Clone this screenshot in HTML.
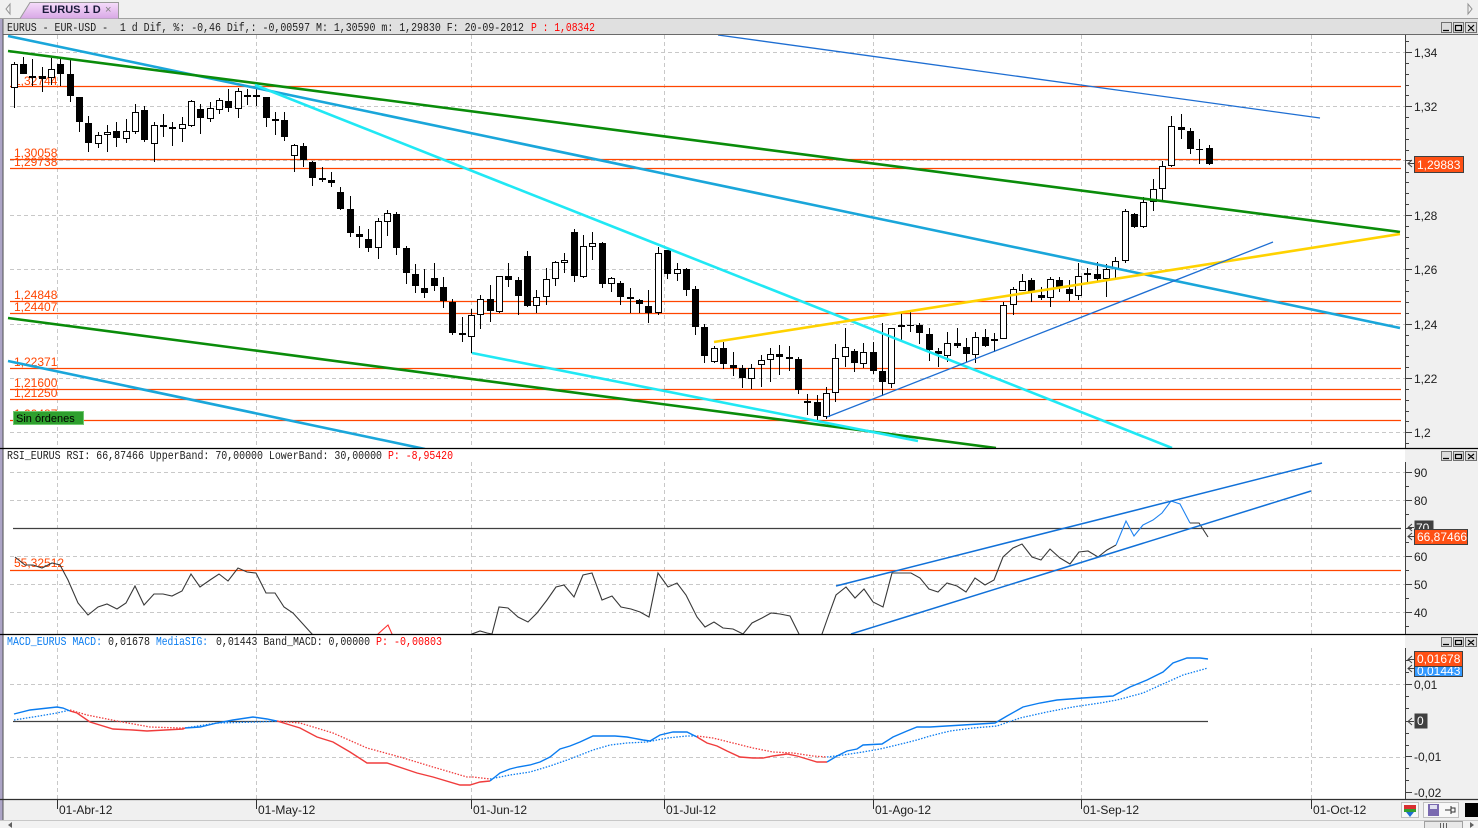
<!DOCTYPE html>
<html><head><meta charset="utf-8"><style>
html,body{margin:0;padding:0;background:#f0f0f0;overflow:hidden;}
svg{display:block;}
text{font-family:"Liberation Sans",sans-serif;}
.hd{font-family:"Liberation Mono",monospace;}
</style></head><body>
<svg width="1478" height="828" viewBox="0 0 1478 828" xmlns="http://www.w3.org/2000/svg">
<defs>
<clipPath id="cm"><rect x="4" y="35" width="1401" height="413"/></clipPath>
<clipPath id="cr"><rect x="4" y="462" width="1401" height="172"/></clipPath>
<clipPath id="cd"><rect x="4" y="648" width="1401" height="151"/></clipPath>
<linearGradient id="tab" x1="0" y1="0" x2="0" y2="1"><stop offset="0" stop-color="#f6dcfa"/><stop offset="1" stop-color="#d8a8e6"/></linearGradient>
</defs>
<rect width="1478" height="828" fill="#f0f0f0"/>

<!-- tab bar -->
<line x1="0" y1="18.5" x2="1478" y2="18.5" stroke="#a0a0a0"/>
<path d="M20,18.5 L30,2.5 H118.5 V18.5" fill="url(#tab)" stroke="#9a9a9a"/>
<text x="42" y="13" font-size="11" font-weight="bold" fill="#1a1a3a">EURUS 1 D</text>
<text x="105" y="13" font-size="11" fill="#808080">×</text>
<path d="M10,4 L6,9 L10,14 Z" fill="none" stroke="#909090"/>
<path d="M1468,4 L1472,9 L1468,14 Z" fill="none" stroke="#909090"/>

<!-- main header row -->
<rect x="4" y="19" width="1474" height="15" fill="#e0e0e0"/>
<line x1="0" y1="34.5" x2="1478" y2="34.5" stroke="#6a6a6a"/>
<text class="hd" x="7" y="31" font-size="12" fill="#202020" textLength="517" lengthAdjust="spacingAndGlyphs" xml:space="preserve">EURUS - EUR-USD -  1 d Dif, %: -0,46 Dif,: -0,00597 M: 1,30590 m: 1,29830 F: 20-09-2012</text>
<text class="hd" x="531" y="31" font-size="12" fill="#ff0000" textLength="64" lengthAdjust="spacingAndGlyphs">P : 1,08342</text>

<!-- plot backgrounds -->
<rect x="4" y="35" width="1401" height="413" fill="#ffffff"/>
<rect x="4" y="449" width="1401" height="185" fill="#ffffff"/>
<rect x="4" y="635" width="1401" height="164" fill="#ffffff"/>

<!-- left bar -->
<rect x="0" y="19" width="2.5" height="801" fill="#aca4c6"/>
<line x1="3" y1="19" x2="3" y2="820" stroke="#555" stroke-width="1"/>

<!-- grids -->
<g stroke="#c8c8c8" stroke-dasharray="4,3" stroke-width="1" fill="none">
<path d="M10,52.5H1405M10,106.5H1405M10,160.5H1405M10,215.5H1405M10,269.5H1405M10,324.5H1405M10,378.5H1405M10,432.5H1405"/>
<path d="M57.5,35V448M256.5,35V448M471.5,35V448M664.5,35V448M873.5,35V448M1081.5,35V448M1311.5,35V448"/>
<path d="M10,472.5H1405M10,500.5H1405M10,556.5H1405M10,584.5H1405M10,612.5H1405"/>
<path d="M57.5,462V634M256.5,462V634M471.5,462V634M664.5,462V634M873.5,462V634M1081.5,462V634M1311.5,462V634"/>
<path d="M10,684.5H1405M10,757.5H1405"/>
<path d="M57.5,648V799M256.5,648V799M471.5,648V799M664.5,648V799M873.5,648V799M1081.5,648V799M1311.5,648V799"/>
</g>

<!-- main orange levels -->
<g stroke="#ff4500" stroke-width="1.2">
<path d="M10,86.5H1401M10,159.5H1401M10,168.5H1401M10,301.5H1401M10,313.5H1401M10,368.5H1401M10,389.5H1401M10,399.5H1401M10,420.5H1401"/>
</g>
<g font-size="12" fill="#ff4500">
<text x="14" y="85">1,32744</text>
<text x="14" y="157">1,30058</text>
<text x="14" y="166">1,29738</text>
<text x="14" y="299">1,24848</text>
<text x="14" y="311">1,24407</text>
<text x="14" y="366">1,22371</text>
<text x="14" y="387">1,21600</text>
<text x="14" y="397">1,21250</text>
<text x="14" y="418">1,20487</text>
</g>

<!-- candles -->
<g clip-path="url(#cm)">
<path stroke="#000" stroke-width="1" fill="none" d="M14.5,62V108M23.5,57V74M32.5,59V86M42.5,67V92M51.5,58V85M60.5,58V86M70.5,60V102M79.5,97V132M88.5,116V152M98.5,132V148M107.5,125V152M116.5,122V147M126.5,119V143M135.5,104V134M144.5,106V142M154.5,122V162M163.5,114V137M172.5,122V146M182.5,117V142M191.5,100V127M200.5,104V134M210.5,102V122M219.5,98V114M228.5,89V112M238.5,88V118M247.5,89V105M256.5,88V106M266.5,97V127M275.5,112V135M284.5,112V141M294.5,144V172M303.5,143V167M312.5,161V186M322.5,167V182M331.5,172V187M340.5,187V210M350.5,196V237M359.5,226V248M368.5,229V252M378.5,218V259M387.5,210V236M396.5,212V255M406.5,246V284M415.5,264V293M424.5,269V298M434.5,263V291M443.5,277V308M452.5,299V335M462.5,317V342M471.5,309V353M480.5,295V329M490.5,285V322M499.5,276V313M508.5,263V287M518.5,277V315M527.5,251V307M536.5,290V313M546.5,268V305M555.5,261V286M564.5,253V273M574.5,229V282M583.5,235V278M592.5,232V260M602.5,242V288M611.5,277V292M620.5,281V305M630.5,288V313M639.5,299V313M648.5,290V323M658.5,247V315M667.5,250V279M677.5,263V281M686.5,268V296M695.5,286V335M704.5,324V363M714.5,346V363M723.5,342V369M733.5,352V376M742.5,365V388M751.5,364V389M761.5,355V387M770.5,348V382M779.5,345V375M789.5,346V371M798.5,357V394M807.5,394V415M817.5,395V420M826.5,387V419M835.5,344V402M845.5,328V367M854.5,349V372M863.5,343V368M873.5,342V374M882.5,323V396M891.5,328V388M901.5,312V341M910.5,312V332M919.5,323V344M929.5,328V361M938.5,348V367M947.5,332V362M957.5,328V348M966.5,338V362M975.5,332V363M985.5,329V347M994.5,333V352M1003.5,302V339M1013.5,287V315M1022.5,274V291M1031.5,278V302M1041.5,287V300M1050.5,277V307M1059.5,277V292M1069.5,280V301M1078.5,263V300M1087.5,268V282M1097.5,262V282M1106.5,264V297M1115.5,257V279M1125.5,209V263M1134.5,213V228M1143.5,197V228M1153.5,179V211M1162.5,161V200M1171.5,116V167M1181.5,114V139M1190.5,128V154M1199.5,139V164M1209.5,145V165"/>
<path fill="#000" d="M20,64h7v10h-7zM29,76h7v2h-7zM39,76h7v3h-7zM57,64h7v10h-7zM67,74h7v22h-7zM76,97h7v25h-7zM85,123h7v20h-7zM113,131h7v7h-7zM141,110h7v30h-7zM160,125h7v2h-7zM169,127h7v2h-7zM197,109h7v9h-7zM225,101h7v7h-7zM244,95h7v2h-7zM253,95h7v2h-7zM263,97h7v21h-7zM272,119h7v2h-7zM281,120h7v17h-7zM300,146h7v14h-7zM309,162h7v16h-7zM319,178h7v2h-7zM328,180h7v3h-7zM337,192h7v17h-7zM347,209h7v24h-7zM356,234h7v3h-7zM365,239h7v9h-7zM393,214h7v34h-7zM403,248h7v25h-7zM412,274h7v12h-7zM421,288h7v5h-7zM431,278h7v8h-7zM440,287h7v14h-7zM449,302h7v31h-7zM459,333h7v2h-7zM487,299h7v12h-7zM505,276h7v4h-7zM515,280h7v16h-7zM524,256h7v50h-7zM571,232h7v44h-7zM599,243h7v41h-7zM617,283h7v14h-7zM627,297h7v2h-7zM636,300h7v4h-7zM645,306h7v7h-7zM664,250h7v24h-7zM683,269h7v21h-7zM692,289h7v38h-7zM701,327h7v29h-7zM720,348h7v16h-7zM730,365h7v3h-7zM739,368h7v10h-7zM776,354h7v3h-7zM786,357h7v2h-7zM795,359h7v31h-7zM804,401h7v2h-7zM814,402h7v14h-7zM851,351h7v12h-7zM870,352h7v19h-7zM879,371h7v11h-7zM898,325h7v2h-7zM907,325h7v1h-7zM916,325h7v8h-7zM926,334h7v16h-7zM935,351h7v3h-7zM954,343h7v3h-7zM963,347h7v7h-7zM982,337h7v9h-7zM1028,280h7v12h-7zM1038,295h7v3h-7zM1056,280h7v7h-7zM1066,289h7v5h-7zM1094,274h7v5h-7zM1131,214h7v13h-7zM1178,127h7v3h-7zM1187,131h7v18h-7zM1196,149h7v1h-7zM1206,148h7v16h-7z"/>
<path fill="#fff" stroke="#000" stroke-width="1" d="M11.5,64.5h6v23h-6zM48.5,69.5h6v8h-6zM95.5,135.5h6v8h-6zM104.5,132.5h6v2h-6zM123.5,131.5h6v7h-6zM132.5,112.5h6v19h-6zM151.5,125.5h6v18h-6zM179.5,124.5h6v4h-6zM188.5,101.5h6v24h-6zM207.5,108.5h6v10h-6zM216.5,100.5h6v9h-6zM235.5,91.5h6v17h-6zM291.5,145.5h6v10h-6zM375.5,221.5h6v26h-6zM384.5,213.5h6v8h-6zM468.5,315.5h6v21h-6zM477.5,299.5h6v15h-6zM496.5,276.5h6v35h-6zM533.5,297.5h6v8h-6zM543.5,279.5h6v17h-6zM552.5,262.5h6v16h-6zM561.5,260.5h6v2h-6zM580.5,246.5h6v30h-6zM589.5,243.5h6v3h-6zM608.5,278.5h6v5h-6zM655.5,253.5h6v59h-6zM674.5,269.5h6v4h-6zM711.5,348.5h6v13h-6zM748.5,368.5h6v10h-6zM758.5,360.5h6v4h-6zM767.5,354.5h6v5h-6zM823.5,393.5h6v23h-6zM832.5,358.5h6v34h-6zM842.5,347.5h6v9h-6zM860.5,352.5h6v11h-6zM888.5,328.5h6v55h-6zM944.5,343.5h6v12h-6zM972.5,337.5h6v17h-6zM991.5,339.5h6v1h-6zM1000.5,305.5h6v33h-6zM1010.5,289.5h6v15h-6zM1019.5,281.5h6v9h-6zM1047.5,279.5h6v18h-6zM1075.5,276.5h6v19h-6zM1084.5,273.5h6v1h-6zM1103.5,269.5h6v9h-6zM1112.5,261.5h6v7h-6zM1122.5,211.5h6v49h-6zM1140.5,202.5h6v24h-6zM1150.5,189.5h6v12h-6zM1159.5,166.5h6v22h-6zM1168.5,126.5h6v39h-6z"/>

<!-- trend lines -->
<g fill="none" stroke-linecap="butt">
<line x1="8" y1="36" x2="1400" y2="328" stroke="#1aa6da" stroke-width="2.6"/>
<line x1="8" y1="361" x2="425" y2="449" stroke="#1aa6da" stroke-width="2.6"/>
<line x1="8" y1="51" x2="1400" y2="232" stroke="#0a8c0a" stroke-width="2.6"/>
<line x1="8" y1="318" x2="996" y2="448" stroke="#0a8c0a" stroke-width="2.6"/>
<line x1="255" y1="85" x2="1172" y2="448" stroke="#20e8f4" stroke-width="2.6"/>
<line x1="472" y1="353" x2="918" y2="441" stroke="#20e8f4" stroke-width="2.6"/>
<line x1="714" y1="342" x2="1400" y2="234" stroke="#ffd200" stroke-width="2.6"/>
<line x1="827" y1="417" x2="1273" y2="242" stroke="#1e6ed2" stroke-width="1.3"/>
<line x1="718" y1="35" x2="1320" y2="118" stroke="#1e6ed2" stroke-width="1.3"/>
</g>
</g>

<!-- Sin ordenes -->
<rect x="13.5" y="411.5" width="70" height="13" fill="#2ea02e" stroke="#70c870"/>
<text x="16" y="422" font-size="11" fill="#000">Sin órdenes</text>

<!-- RSI header -->
<text class="hd" x="7" y="459" font-size="12" fill="#202020" textLength="375" lengthAdjust="spacingAndGlyphs">RSI_EURUS RSI: 66,87466 UpperBand: 70,00000 LowerBand: 30,00000</text>
<text class="hd" x="388" y="459" font-size="12" fill="#ff0000" textLength="65" lengthAdjust="spacingAndGlyphs">P: -8,95420</text>

<!-- RSI levels -->
<line x1="13" y1="528.5" x2="1401" y2="528.5" stroke="#404040" stroke-width="1.2"/>
<line x1="10" y1="570.5" x2="1401" y2="570.5" stroke="#ff4500" stroke-width="1.2"/>
<text x="14" y="567" font-size="12" fill="#ff4500">55,32512</text>

<g clip-path="url(#cr)" fill="none" stroke-width="1.1">
<path stroke="#383838" d="M15,557L25,565 33,565 42,568 52,563 60,565 68,580 78,603 88,615 98,607 107,604 117,609 126,603 135,586 144,605 154,594 163,594 172,596 182,591 191,574 200,587 210,580 219,574 228,581 238,568 247,572 256,573 266,593 275,593 284,607 293,613 312,634 322,645 370,645 378,634"/>
<path stroke="#ff3030" d="M378,634L388,625 392,634"/>
<path stroke="#383838" d="M392,634L400,645 465,645 472,634 480,631 487,633 492,634 499,607 508,608 518,617 528,622 537,613 547,600 556,587 564,585 574,597 583,575 592,573 602,600 612,596 621,607 631,609 640,612 649,617 658,573 668,587 677,583 686,595 697,617 705,627 714,622 723,628 733,629 743,634 752,623 762,618 771,613 780,614 790,616 799,634 805,645 816,645 822,634 828,617 836,595 846,587 855,598 864,589 873,602 883,607 892,573 902,573 911,573 920,578 929,589 938,592 947,583 957,586 966,592 975,578 985,585 994,580 1003,557 1013,548 1022,544 1032,557 1041,560 1050,549 1060,558 1070,564 1079,552 1088,551 1098,557 1107,550 1116,545"/>
<path stroke="#1e82f0" d="M1116,545L1126,521 1134,536 1143,525 1153,520 1162,513 1171,501 1180,504 1190,523"/>
<path stroke="#383838" d="M1190,523L1199,523 1208,537"/>
<line x1="836" y1="586" x2="1322" y2="463" stroke="#1070d8" stroke-width="1.5"/>
<line x1="851" y1="634" x2="1311" y2="491" stroke="#1070d8" stroke-width="1.5"/>
</g>

<!-- MACD header -->
<text class="hd" x="7" y="645" font-size="12" fill="#0a7cf0" textLength="95" lengthAdjust="spacingAndGlyphs">MACD_EURUS MACD:</text>
<text class="hd" x="108" y="645" font-size="12" fill="#202020" textLength="42" lengthAdjust="spacingAndGlyphs">0,01678</text>
<text class="hd" x="156" y="645" font-size="12" fill="#0a7cf0" textLength="52" lengthAdjust="spacingAndGlyphs">MediaSIG:</text>
<text class="hd" x="216" y="645" font-size="12" fill="#202020" textLength="154" lengthAdjust="spacingAndGlyphs">0,01443 Band_MACD: 0,00000</text>
<text class="hd" x="376" y="645" font-size="12" fill="#ff0000" textLength="66" lengthAdjust="spacingAndGlyphs">P: -0,00803</text>

<line x1="13" y1="721.5" x2="1208" y2="721.5" stroke="#404040" stroke-width="1.2"/>
<g clip-path="url(#cd)" fill="none">
<g stroke-width="1.4">
<path stroke="#0a7cf0" d="M14,714L30,710 57,707 63,708 70,711"/>
<path stroke="#f03c3c" d="M70,711L77,713 90,722 113,729 133,730 147,731 183,729 185,728"/>
<path stroke="#0a7cf0" d="M185,728L200,727 217,723 233,720 253,717 267,719 277,721"/>
<path stroke="#f03c3c" d="M277,721L300,728 317,737 333,742 350,752 367,763 387,763 417,773 433,777 460,785 470,785 480,782 490,781"/>
<path stroke="#0a7cf0" d="M490,781L500,773 510,769 518,767 530,765 540,762 550,757 560,749 570,746 580,742 593,736 615,736 627,737 643,740 650,741 660,735 673,732 687,732 697,737"/>
<path stroke="#f03c3c" d="M697,737L707,743 717,746 727,751 740,757 753,758 763,758 773,756 787,754 797,756 807,759 817,762 827,762"/>
<path stroke="#0a7cf0" d="M827,762L837,756 847,751 857,749 863,745 882,744 893,737 907,731 917,727 930,727 963,725 995,723 1007,716 1023,707 1040,703 1057,700 1083,698 1113,696 1130,687 1147,680 1163,672 1173,663 1187,658 1200,658 1208,659"/>
</g>
<g stroke-width="1.3" stroke-dasharray="1.5,1.5">
<path stroke="#0a7cf0" d="M14,720L33,717 57,713 70,710"/>
<path stroke="#f03c3c" d="M70,710L87,715 117,721 150,727 180,728 185,728"/>
<path stroke="#0a7cf0" d="M185,728L217,723 257,722 277,721"/>
<path stroke="#f03c3c" d="M277,721L300,723 333,733 367,748 400,757 433,767 467,777 473,777 490,779"/>
<path stroke="#0a7cf0" d="M490,779L510,775 530,772 550,766 570,759 593,750 610,745 627,743 647,742 667,738 687,736 697,736"/>
<path stroke="#f03c3c" d="M697,736L713,738 733,743 753,748 773,752 793,753 813,756 827,757"/>
<path stroke="#0a7cf0" d="M827,757L843,755 863,752 880,749 897,745 917,740 930,736 950,731 973,728 997,726 1020,718 1047,712 1073,707 1100,703 1117,700 1143,693 1163,684 1183,675 1208,668"/>
</g>
</g>

<!-- panel separators -->
<line x1="0" y1="448.5" x2="1478" y2="448.5" stroke="#000" stroke-width="1.3"/>
<line x1="0" y1="634.5" x2="1478" y2="634.5" stroke="#000" stroke-width="1.3"/>
<line x1="0" y1="799.5" x2="1478" y2="799.5" stroke="#303030" stroke-width="1.3"/>

<!-- header buttons -->
<g stroke="#707070" fill="#dcdcdc">
<rect x="1441.5" y="22.5" width="10" height="10"/><rect x="1453.5" y="22.5" width="10" height="10"/><rect x="1465.5" y="22.5" width="11" height="10"/>
<rect x="1441.5" y="451.5" width="10" height="9"/><rect x="1453.5" y="451.5" width="10" height="9"/><rect x="1465.5" y="451.5" width="11" height="9"/>
<rect x="1441.5" y="637.5" width="10" height="9"/><rect x="1453.5" y="637.5" width="10" height="9"/><rect x="1465.5" y="637.5" width="11" height="9"/>
</g>
<g stroke="#000" stroke-width="1.2" fill="none">
<path d="M1443,30.5h6M1455.5,25.5h6v5h-6zM1468,25l6,6M1474,25l-6,6"/>
<path d="M1443,458.5h6M1455.5,454.5h6v4h-6zM1468,454l6,5M1474,454l-6,5"/>
<path d="M1443,644.5h6M1455.5,640.5h6v4h-6zM1468,640l6,5M1474,640l-6,5"/>
</g>

<!-- right axes -->
<g stroke="#404040" stroke-width="1" fill="none">
<path d="M1405.5,35V448M1405.5,462V634M1405.5,648V799"/>
<path d="M1405,52.5h7M1405,106.5h7M1405,160.5h7M1405,215.5h7M1405,269.5h7M1405,324.5h7M1405,378.5h7M1405,432.5h7"/>
<path d="M1405,41.5h4M1405,63.5h4M1405,74.5h4M1405,85.5h4M1405,95.5h4M1405,117.5h4M1405,128.5h4M1405,139.5h4M1405,150.5h4M1405,172.5h4M1405,182.5h4M1405,193.5h4M1405,204.5h4M1405,226.5h4M1405,237.5h4M1405,248.5h4M1405,258.5h4M1405,280.5h4M1405,291.5h4M1405,302.5h4M1405,313.5h4M1405,335.5h4M1405,345.5h4M1405,356.5h4M1405,367.5h4M1405,389.5h4M1405,400.5h4M1405,411.5h4M1405,421.5h4M1405,443.5h4"/>
<path d="M1405,472.5h7M1405,500.5h7M1405,528.5h7M1405,556.5h7M1405,584.5h7M1405,612.5h7M1405,486.5h4M1405,514.5h4M1405,542.5h4M1405,570.5h4M1405,598.5h4M1405,626.5h4"/>
<path d="M1405,684.5h7M1405,721.5h7M1405,756.5h7M1405,792.5h7M1405,660.5h4M1405,672.5h4M1405,696.5h4M1405,708.5h4M1405,733.5h4M1405,745.5h4M1405,768.5h4M1405,780.5h4"/>
</g>
<g font-size="12" fill="#202020">
<text x="1414" y="57">1,34</text>
<text x="1414" y="111">1,32</text>
<text x="1414" y="165">1,3</text>
<text x="1414" y="220">1,28</text>
<text x="1414" y="274">1,26</text>
<text x="1414" y="329">1,24</text>
<text x="1414" y="383">1,22</text>
<text x="1414" y="437">1,2</text>
<text x="1414" y="477">90</text>
<text x="1414" y="505">80</text>
<text x="1414" y="561">60</text>
<text x="1414" y="589">50</text>
<text x="1414" y="617">40</text>
<text x="1414" y="689">0,01</text>
<text x="1414" y="761">-0,01</text>
<text x="1414" y="797">-0,02</text>
</g>

<!-- value boxes -->
<g stroke="#404040" fill="none" stroke-width="1">
<path d="M1412,160L1408,163.5 1412,167M1408,163.5H1414"/>
<path d="M1412,524L1408,527.5 1412,531M1408,527.5H1414"/>
<path d="M1412,533L1408,536.5 1412,540M1408,536.5H1414"/>
<path d="M1412,656L1408,659.5 1412,663M1408,659.5H1414"/>
<path d="M1412,665L1408,668.5 1412,672M1408,668.5H1414"/>
<path d="M1412,718L1408,721.5 1412,725M1408,721.5H1414"/>
</g>
<rect x="1414.5" y="156.5" width="49" height="16" fill="#ff5014" stroke="#404040"/>
<text x="1417" y="169" font-size="12" fill="#fff">1,29883</text>

<rect x="1414.5" y="520.5" width="19" height="14" fill="#404040"/>
<text x="1416" y="532" font-size="12" fill="#fff">70</text>
<rect x="1414.5" y="529.5" width="53" height="15" fill="#ff5014" stroke="#404040"/>
<text x="1417" y="541" font-size="12" fill="#fff">66,87466</text>

<rect x="1414.5" y="663.5" width="48" height="13" fill="#3399ff" stroke="#404040"/>
<text x="1417" y="675" font-size="12" fill="#fff">0,01443</text>
<rect x="1414.5" y="651.5" width="48" height="15" fill="#ff5014" stroke="#404040"/>
<text x="1417" y="663" font-size="12" fill="#fff">0,01678</text>
<rect x="1414.5" y="713.5" width="13" height="15" fill="#404040"/>
<text x="1417" y="725" font-size="12" fill="#fff">0</text>

<!-- time axis -->
<g stroke="#303030" stroke-width="1">
<path d="M57.5,800V809M256.5,800V809M471.5,800V809M664.5,800V809M873.5,800V809M1081.5,800V809M1311.5,800V809"/>
</g>
<g font-size="12" fill="#202020">
<text x="59" y="814">01-Abr-12</text>
<text x="258" y="814">01-May-12</text>
<text x="473" y="814">01-Jun-12</text>
<text x="666" y="814">01-Jul-12</text>
<text x="875" y="814">01-Ago-12</text>
<text x="1083" y="814">01-Sep-12</text>
<text x="1313" y="814">01-Oct-12</text>
</g>

<!-- bottom strip -->
<line x1="0" y1="820.5" x2="1478" y2="820.5" stroke="#c8c8c8"/>
<rect x="0" y="821" width="1478" height="7" fill="#f2f2f2"/>
<path d="M12,822L8,825 12,828Z" fill="#606060"/>
<rect x="1424.5" y="821.5" width="38" height="7" fill="#e8e8e8" stroke="#a0a0a0"/>
<path d="M1440.5,823v5M1443.5,823v5M1446.5,823v5" stroke="#606060"/>
<path d="M1470,822L1474,825 1470,828Z" fill="#606060"/>

<!-- bottom-right icons -->
<rect x="1401.5" y="802.5" width="17" height="15" fill="#f8f8f8" stroke="#c0c0c0"/>
<rect x="1404" y="805" width="12" height="4" fill="#d83030"/>
<rect x="1404" y="809" width="12" height="3" fill="#30a030"/>
<path d="M1410,817L1406,812H1414Z" fill="#1e6ed2"/>
<rect x="1423.5" y="802.5" width="35" height="15" fill="#f8f8f8" stroke="#c0c0c0"/>
<rect x="1428" y="804" width="11" height="12" fill="#7a6ab0"/>
<rect x="1430" y="805" width="7" height="4" fill="#e0e0f0"/>
<path d="M1445,810h6M1451,806v8M1451,808h4v4h-4" stroke="#303030" fill="none"/>
<rect x="1465" y="803" width="13" height="14" fill="#000"/>
</svg>
</body></html>
